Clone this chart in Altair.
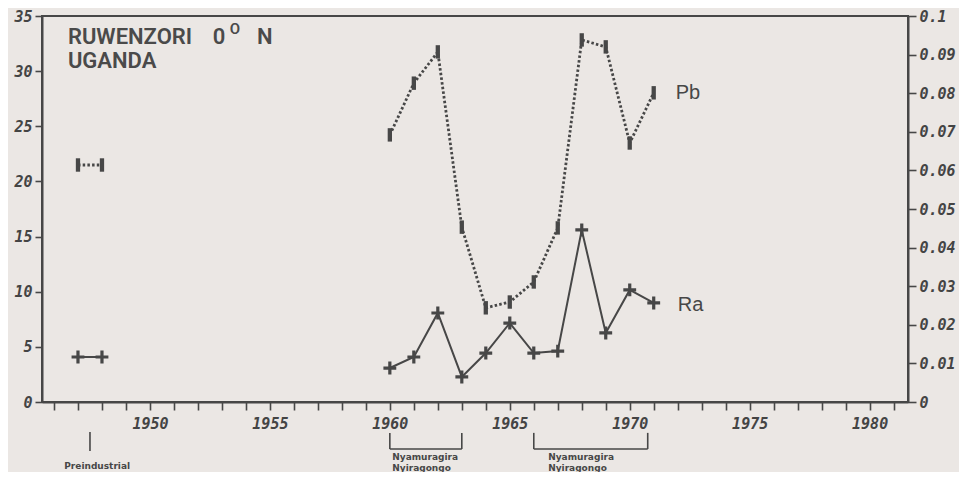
import altair as alt
import pandas as pd

# ---- data ----
years = [1947, 1948, 1960, 1961, 1962, 1963, 1964, 1965, 1966, 1967, 1968, 1969, 1970, 1971]
segment = ["pre", "pre"] + ["post"] * 12
ra_values = [4.08, 4.08, 3.08, 4.08, 8.07, 2.27, 4.44, 7.16, 4.44, 4.62, 15.6, 6.26, 10.16, 8.98]
pb_values = [0.0614, 0.0614, 0.0692, 0.0826, 0.0907, 0.0453, 0.0244, 0.0259, 0.0311,
             0.0451, 0.0938, 0.0920, 0.0671, 0.0801]

left_ticks = [0, 5, 10, 15, 20, 25, 30, 35]
right_ticks = [round(i * 0.01, 2) for i in range(11)]
x_ticks = list(range(1946, 1982))

# annotation brackets below the axis (years / left-axis units)
br_x = [1960, 1963, 1960, 1966, 1970.75, 1966, 1947.5]
br_x2 = [1960, 1963, 1963, 1966, 1970.75, 1970.75, 1947.5]
br_y = [-2.8, -2.8, -4.26, -2.8, -2.8, -4.26, -2.72]
br_y2 = [-4.26, -4.26, -4.26, -4.26, -4.26, -4.26, -4.44]

note_text = ["Preindustrial", "Nyamuragira", "Nyiragongo", "Nyamuragira", "Nyiragongo"]
note_x = [1947.8, 1960.1, 1960.1, 1966.6, 1966.6]
note_y = [-5.8, -4.99, -5.98, -4.99, -5.98]
note_align = ["center", "left", "left", "left", "left"]

title_text = ["RUWENZORI", "UGANDA", "0", "N"]
title_x = [1946.58, 1946.58, 1952.62, 1954.46]
title_y = [33.1, 30.9, 33.1, 33.1]

INK = "#474747"
BG = "#ebe7e4"

df_ra = pd.DataFrame({"year": years, "value": ra_values, "seg": segment})
df_pb = pd.DataFrame({"year": years, "value": pb_values, "seg": segment})
df_br = pd.DataFrame({"x": br_x, "x2": br_x2, "y": br_y, "y2": br_y2})
df_note = pd.DataFrame({"t": note_text, "x": note_x, "y": note_y, "a": note_align})
df_title = pd.DataFrame({"t": title_text, "x": title_x, "y": title_y})

xscale = alt.Scale(domain=[1945.5, 1981.6], nice=False, zero=False)
lscale = alt.Scale(domain=[0, 35], nice=False)
rscale = alt.Scale(domain=[0, 0.1], nice=False)

xaxis = alt.Axis(values=x_ticks, format="d",
                 labelExpr="datum.value % 5 == 0 ? datum.label : ''",
                 labelOverlap=False, tickSize=8, labelPadding=6, title=None,
                 grid=False)
laxis = alt.Axis(orient="left", values=left_ticks, tickSize=7, labelOverlap=False,
                 labelPadding=3, title=None, grid=False)
raxis = alt.Axis(orient="right", values=right_ticks, format=".2~f", labelOverlap=False,
                 tickSize=8, labelPadding=3, title=None, grid=False)


def xe(field):
    return alt.X(field, scale=xscale, axis=xaxis)


def yl(field):
    return alt.Y(field, scale=lscale, axis=laxis)


def yr(field):
    return alt.Y(field, scale=rscale, axis=raxis)


cross_path = ("M-1,-0.25L-0.25,-0.25L-0.25,-1L0.25,-1L0.25,-0.25L1,-0.25L1,0.25"
              "L0.25,0.25L0.25,1L-0.25,1L-0.25,0.25L-1,0.25Z")
bar_path = "M-0.32,-1L0.32,-1L0.32,1L-0.32,1Z"

ra_line = alt.Chart(df_ra).mark_line(color=INK, strokeWidth=2).encode(
    x=xe("year:Q"), y=yl("value:Q"), detail="seg:N")
ra_pts = alt.Chart(df_ra).mark_point(shape=cross_path, filled=True, size=165,
                                     color=INK, opacity=1).encode(
    x=xe("year:Q"), y=yl("value:Q"))
ra_label = alt.Chart(df_ra.tail(1)).mark_text(
    text="Ra", align="left", baseline="middle", dx=24, dy=2, fontSize=20,
    font="Liberation Sans", color=INK).encode(x=xe("year:Q"), y=yl("value:Q"))

brackets = alt.Chart(df_br).mark_rule(color=INK, strokeWidth=1.6).encode(
    x=xe("x:Q"), x2="x2:Q", y=yl("y:Q"), y2="y2:Q")

notes_left = alt.Chart(df_note[df_note.a == "left"]).mark_text(
    fontSize=9, fontWeight="bold", font="DejaVu Sans", color=INK,
    baseline="middle", align="left").encode(x=xe("x:Q"), y=yl("y:Q"), text="t:N")
notes_center = alt.Chart(df_note[df_note.a == "center"]).mark_text(
    fontSize=9, fontWeight="bold", font="DejaVu Sans", color=INK,
    baseline="middle", align="center").encode(x=xe("x:Q"), y=yl("y:Q"), text="t:N")

title = alt.Chart(df_title).mark_text(
    fontSize=22, font="Roboto", fontWeight=600, color="#4a4a4a",
    align="left", baseline="middle").encode(x=xe("x:Q"), y=yl("y:Q"), text="t:N")
sup = alt.Chart(pd.DataFrame({"t": ["O"], "x": [1953.33], "y": [33.8]})).mark_text(
    fontSize=15, font="Roboto", fontWeight=600, color="#4a4a4a",
    align="left", baseline="middle").encode(x=xe("x:Q"), y=yl("y:Q"), text="t:N")

left = alt.layer(ra_line, ra_pts, ra_label, brackets, notes_left, notes_center, title, sup)

pb_line = alt.Chart(df_pb).mark_line(color=INK, strokeWidth=2.8,
                                     strokeDash=[2.5, 2.2]).encode(
    x=xe("year:Q"), y=yr("value:Q"), detail="seg:N")
pb_pts = alt.Chart(df_pb).mark_point(shape=bar_path, filled=True, size=180,
                                     color=INK, opacity=1).encode(
    x=xe("year:Q"), y=yr("value:Q"))
pb_label = alt.Chart(df_pb.tail(1)).mark_text(
    text="Pb", align="left", baseline="middle", dx=22, fontSize=20,
    font="Liberation Sans", color=INK).encode(x=xe("year:Q"), y=yr("value:Q"))

right = alt.layer(pb_line, pb_pts, pb_label)

chart = alt.layer(left, right).resolve_scale(y="independent").properties(
    width=866, height=386,
    padding={"left": 34, "top": 8, "right": 51, "bottom": 70},
    autosize=alt.AutoSizeParams(type="none"),
).configure(background=BG).configure_view(
    stroke=INK, strokeWidth=2
).configure_axis(
    domainColor=INK, domainWidth=2, tickColor=INK, tickWidth=1.6,
    labelColor="#444444", labelFont="DejaVu Sans Mono", labelFontSize=15,
    labelFontStyle="italic", labelFontWeight="bold",
)

chart.save("out.html", embed_options={"renderer": "svg", "actions": False})
